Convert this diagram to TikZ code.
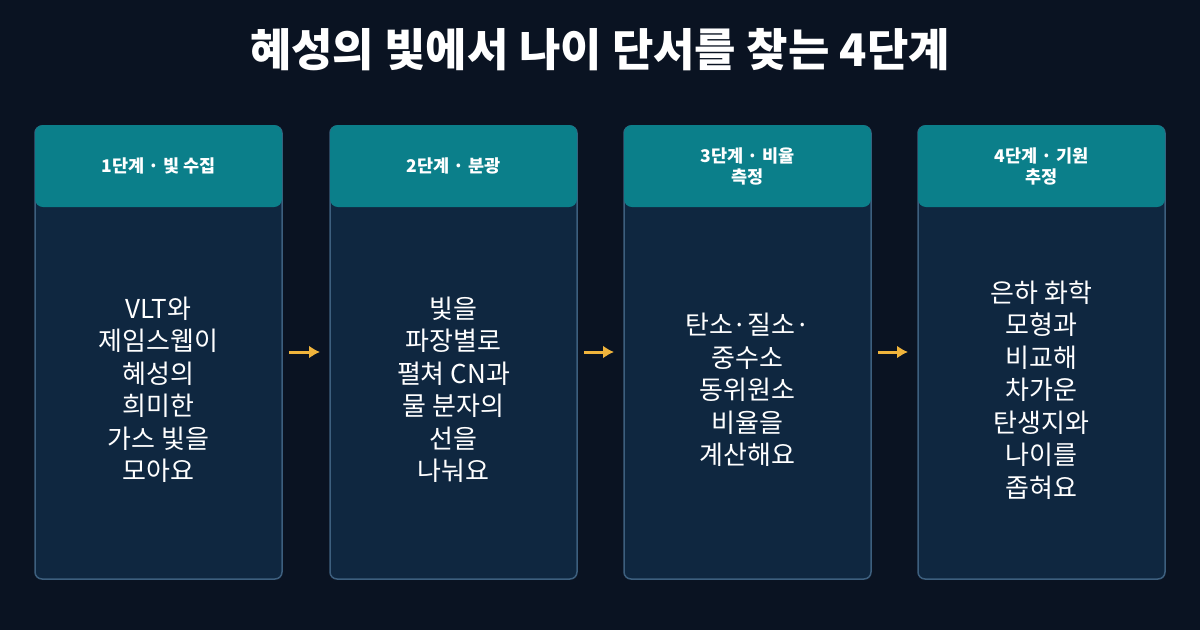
\documentclass[tikz,border=0pt]{standalone}
\usepackage{fontspec}
\usetikzlibrary{arrows.meta}
\setmainfont{Noto Sans CJK KR}
\definecolor{bg}{HTML}{0A1322}
\definecolor{hd}{HTML}{0B7F8A}
\definecolor{bd}{HTML}{0F2740}
\definecolor{br}{HTML}{3D5F7E}
\definecolor{ar}{HTML}{F0B43C}
\begin{document}
\begin{tikzpicture}[x=1pt,y=-1pt,
 card/.style={draw=br,line width=1.5pt,fill=bd,rounded corners=7pt},
 head/.style={fill=hd,rounded corners=8pt},
 htxt/.style={text=white,font=\fontsize{17.5}{21}\selectfont\bfseries,align=center},
 btxt/.style={text=white,font=\fontsize{26}{32.5}\selectfont,align=center},
 arr/.style={draw=ar,line width=3pt,-{Latex[length=11pt,width=13pt]}}]
\fill[bg] (0,0) rectangle (1200,630);
\node[text=white,font=\fontsize{45}{50}\selectfont\bfseries] (title) at (600,50) {혜성의 빛에서 나이 단서를 찾는 4단계};
\foreach \i/\x/\h/\b in {1/35/{1단계 · 빛 수집}/{VLT와\\제임스웹이\\혜성의\\희미한\\가스 빛을\\모아요},
 2/330/{2단계 · 분광}/{빛을\\파장별로\\펼쳐 CN과\\물 분자의\\선을\\나눠요},
 3/624/{3단계 · 비율\\측정}/{탄소·질소·\\중수소\\동위원소\\비율을\\계산해요},
 4/918/{4단계 · 기원\\추정}/{은하 화학\\모형과\\비교해\\차가운\\탄생지와\\나이를\\좁혀요}}{
 \draw[card] (\x,126) rectangle ++(247,453);
 \fill[head] (\x,125) rectangle ++(247,82);
 \node[htxt] (h\i) at (\x+123.5,166) {\h};
 \node[btxt] (b\i) at (\x+123.5,390) {\b};
 \coordinate (L\i) at (\x-2,352);
 \coordinate (R\i) at (\x+249,352);
}
\draw[arr] ([xshift=5pt]R1) -- ([xshift=-8pt]L2);
\draw[arr] ([xshift=5pt]R2) -- ([xshift=-8pt]L3);
\draw[arr] ([xshift=5pt]R3) -- ([xshift=-8pt]L4);
\end{tikzpicture}
\end{document}
